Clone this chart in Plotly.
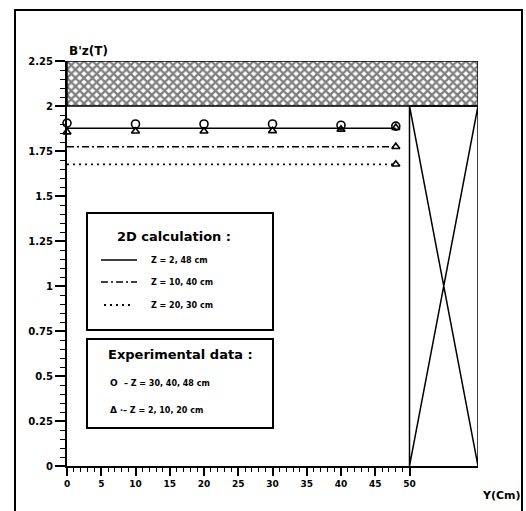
import plotly.graph_objects as go

# ---- data ----
y_pos = [0, 10, 20, 30, 40, 48]
calc_line_x = [0, 48]
calc_solid = [1.876, 1.876]      # Z = 2, 48 cm
calc_dashdot = [1.774, 1.774]    # Z = 10, 40 cm
calc_dotted = [1.676, 1.676]     # Z = 20, 30 cm
exp_circles = [1.905, 1.900, 1.900, 1.900, 1.893, 1.888]   # Z = 30, 40, 48 cm
exp_triangles = [1.855, 1.860, 1.860, 1.862, 1.870, 1.880]  # Z = 2, 10, 20 cm
extra_tri_x = [48, 48]
extra_tri_y = [1.774, 1.676]
hatch_x = [0, 60]
hatch_y = [2.0, 2.25]
box_x = [50, 60]
box_y = [0.0, 2.0]
x_ticks = [0, 5, 10, 15, 20, 25, 30, 35, 40, 45, 50]
y_ticks = [0, 0.25, 0.5, 0.75, 1, 1.25, 1.5, 1.75, 2, 2.25]
y_tick_text = ["0", "0.25", "0.5", "0.75", "1", "1.25", "1.5", "1.75", "2", "2.25"]

W, H = 526, 511
L, R, T, B = 67, 48, 61, 45
XR = [0, 60]
YR = [0, 2.25]

def px2x(px):
    return XR[0] + (px - L) / (W - L - R) * (XR[1] - XR[0])

def py2y(py):
    return YR[0] + (H - B - py) / (H - T - B) * (YR[1] - YR[0])

def px2paper(px):
    return (px - L) / (W - L - R)

def py2paper(py):
    return (H - B - py) / (H - T - B)

FONT = "DejaVu Sans"
fig = go.Figure()

# hatched region
fig.add_trace(go.Scatter(
    x=[hatch_x[0], hatch_x[1], hatch_x[1], hatch_x[0], hatch_x[0]],
    y=[hatch_y[0], hatch_y[0], hatch_y[1], hatch_y[1], hatch_y[0]],
    mode="lines", fill="toself", fillcolor="white",
    fillpattern=dict(shape="x", size=6, solidity=0.62, fgcolor="black", bgcolor="white"),
    line=dict(color="black", width=1.5), showlegend=False, hoverinfo="skip"))

# X box
fig.add_trace(go.Scatter(
    x=[box_x[0], box_x[0], box_x[1], box_x[1], box_x[0], box_x[1]],
    y=[box_y[1], box_y[0], box_y[1], box_y[0], box_y[1], box_y[1]],
    mode="lines", line=dict(color="black", width=1.5), showlegend=False, hoverinfo="skip"))

# calculation lines
fig.add_trace(go.Scatter(x=calc_line_x, y=calc_solid, mode="lines",
                         line=dict(color="black", width=1.5), showlegend=False))
fig.add_trace(go.Scatter(x=calc_line_x, y=calc_dashdot, mode="lines",
                         line=dict(color="black", width=1.5, dash="7px,3px,2px,3px"), showlegend=False))
fig.add_trace(go.Scatter(x=calc_line_x, y=calc_dotted, mode="lines",
                         line=dict(color="black", width=1.8, dash="2px,4px"), showlegend=False))

# experimental markers
fig.add_trace(go.Scatter(x=y_pos, y=exp_circles, mode="markers",
                         marker=dict(symbol="circle-open", size=8, color="black", line=dict(width=1.6)),
                         showlegend=False, cliponaxis=False))
fig.add_trace(go.Scatter(x=y_pos, y=exp_triangles, mode="markers",
                         marker=dict(symbol="triangle-up-open", size=7, color="black", line=dict(width=1.6)),
                         showlegend=False, cliponaxis=False))
fig.add_trace(go.Scatter(x=extra_tri_x, y=extra_tri_y, mode="markers",
                         marker=dict(symbol="triangle-up-open", size=7, color="black", line=dict(width=1.6)),
                         showlegend=False, cliponaxis=False))

shapes = []
# outer frame
shapes.append(dict(type="rect", xref="paper", yref="paper",
                   x0=px2paper(15), x1=px2paper(522), y0=py2paper(520), y1=py2paper(10),
                   line=dict(color="black", width=2), fillcolor="rgba(0,0,0,0)", layer="below"))
# legend boxes
shapes.append(dict(type="rect", xref="x", yref="y", x0=px2x(87), x1=px2x(273),
                   y0=py2y(330), y1=py2y(213), line=dict(color="black", width=2)))
shapes.append(dict(type="rect", xref="x", yref="y", x0=px2x(87), x1=px2x(273),
                   y0=py2y(428), y1=py2y(339), line=dict(color="black", width=2)))
# legend line samples
shapes.append(dict(type="line", xref="x", yref="y", x0=px2x(101), x1=px2x(137),
                   y0=py2y(260), y1=py2y(260), line=dict(color="black", width=1.5)))
shapes.append(dict(type="line", xref="x", yref="y", x0=px2x(101), x1=px2x(137),
                   y0=py2y(282), y1=py2y(282), line=dict(color="black", width=1.5, dash="7px,3px,2px,3px")))
shapes.append(dict(type="line", xref="x", yref="y", x0=px2x(104), x1=px2x(134),
                   y0=py2y(305), y1=py2y(305), line=dict(color="black", width=1.8, dash="2px,4px")))

ann = []
def text(px, py, s, size, anchor="left"):
    ann.append(dict(x=px2paper(px), y=py2paper(py), xref="paper", yref="paper", text=s,
                    showarrow=False, xanchor=anchor, yanchor="middle",
                    font=dict(family=FONT, size=size, color="black", weight="bold")))

text(88, 51, "B'z(T)", 12, "center")
text(523, 496, "Y(Cm)", 11, "right")
text(174, 236, "2D calculation :", 13, "center")
text(149, 260, "Z = 2, 48 cm", 8)
text(149, 282, "Z = 10, 40 cm", 8)
text(149, 305, "Z = 20, 30 cm", 8)
text(180, 354, "Experimental data :", 13, "center")
text(108, 383, "O", 9)
text(122, 383, "– Z = 30, 40, 48 cm", 8)
text(108, 410, "Δ", 9)
text(118, 410, "·– Z = 2, 10, 20 cm", 8)

minor_x = [v for v in range(0, 51) if v % 5 != 0]
minor_y = [round(i * 0.05, 2) for i in range(0, 46) if i % 5 != 0]

fig.update_layout(
    width=W, height=H, margin=dict(l=L, r=R, t=T, b=B),
    paper_bgcolor="white", plot_bgcolor="white",
    shapes=shapes, annotations=ann,
    xaxis=dict(range=XR, showgrid=False, zeroline=False, showline=True, linecolor="black", linewidth=2,
               tickmode="array", tickvals=x_ticks, ticks="outside", ticklen=8, tickwidth=1.5,
               tickcolor="black",
               tickfont=dict(family=FONT, size=9, color="black", weight="bold"),
               minor=dict(tickmode="array", tickvals=minor_x, ticks="outside", ticklen=4,
                          tickwidth=1.2, tickcolor="black", showgrid=False)),
    yaxis=dict(range=YR, showgrid=False, zeroline=False, showline=True, linecolor="black", linewidth=2,
               tickmode="array", tickvals=y_ticks, ticktext=y_tick_text, ticks="outside", ticklen=10,
               tickwidth=1.5, tickcolor="black",
               tickfont=dict(family=FONT, size=10, color="black", weight="bold"),
               minor=dict(tickmode="array", tickvals=minor_y, ticks="outside", ticklen=5,
                          tickwidth=1.2, tickcolor="black", showgrid=False)),
)

fig.write_html("out.html")
